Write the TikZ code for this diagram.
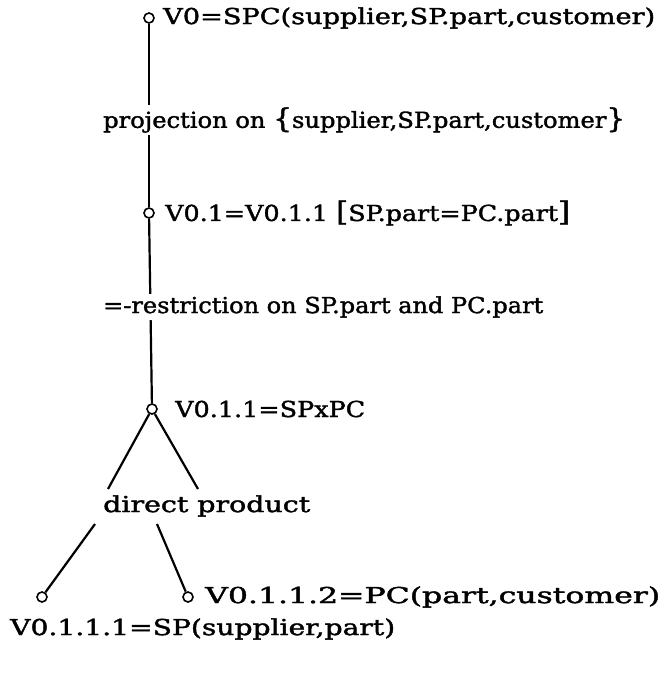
\documentclass[tikz,border=0pt]{standalone}
\usepackage{fontspec}
\usepackage{graphicx}
\setmainfont{DejaVu Serif}[FakeBold=1.5]
\newcommand\fitw[2]{\resizebox{#1}{\height}{#2}}
\newcommand\bigch[1]{{\fontsize{27pt}{27pt}\selectfont #1}}
\begin{document}
\begin{tikzpicture}[x=1pt,y=1pt,
  vtx/.style={circle,draw,line width=1.6pt,inner sep=0pt,minimum size=10pt,fill=white},
  lbl/.style={anchor=west,inner sep=0pt,font=\fontsize{22pt}{24pt}\selectfont},
  oplbl/.style={lbl,fill=white,inner ysep=2pt},
  edge/.style={line width=2.2pt}]
\useasboundingbox (0,0) rectangle (663,-674);

% vertices of the derivation tree
\node[vtx] (c0) at (149,-18) {};
\node[vtx] (c1) at (149,-213) {};
\node[vtx] (c2) at (152,-409) {};
\node[vtx] (c3) at (42,-597) {};
\node[vtx] (c4) at (188,-597) {};

% ends of the branch pieces around the "direct product" label
\coordinate (lu) at (108,-489);
\coordinate (ll) at (95,-524);
\coordinate (ru) at (198,-489);
\coordinate (rl) at (157,-524);

% edges
\draw[edge] (c0) -- (c1);
\draw[edge] (c1) -- (c2);
\draw[edge] (c2) -- (lu);
\draw[edge] (ll) -- (c3);
\draw[edge] (c2) -- (ru);
\draw[edge] (rl) -- (c4);

% operation labels sit on the edges
\node[oplbl] (l1) at (103,-120) {\fitw{522pt}{projection on \bigch{\{}supplier,SP.part,customer\bigch{\}}}};
\node[oplbl] (l2) at (103,-307) {\fitw{440pt}{=-restriction on SP.part and PC.part}};
\node[oplbl] (l3) at (103,-506) {\fitw{207pt}{direct product}};

% view labels
\node[lbl] (t0) at (163,-18) {\fitw{492pt}{V0=SPC(supplier,SP.part,customer)}};
\node[lbl] (t1) at (165,-213) {\fitw{405pt}{V0.1=V0.1.1 \bigch{[}SP.part=PC.part\bigch{]}}};
\node[lbl] (t2) at (175,-409) {\fitw{190pt}{V0.1.1=SPxPC}};
\node[lbl] (t4) at (205,-597) {\fitw{455pt}{V0.1.1.2=PC(part,customer)}};
\node[lbl] (t3) at (10,-629) {\fitw{385pt}{V0.1.1.1=SP(supplier,part)}};
\end{tikzpicture}
\end{document}
